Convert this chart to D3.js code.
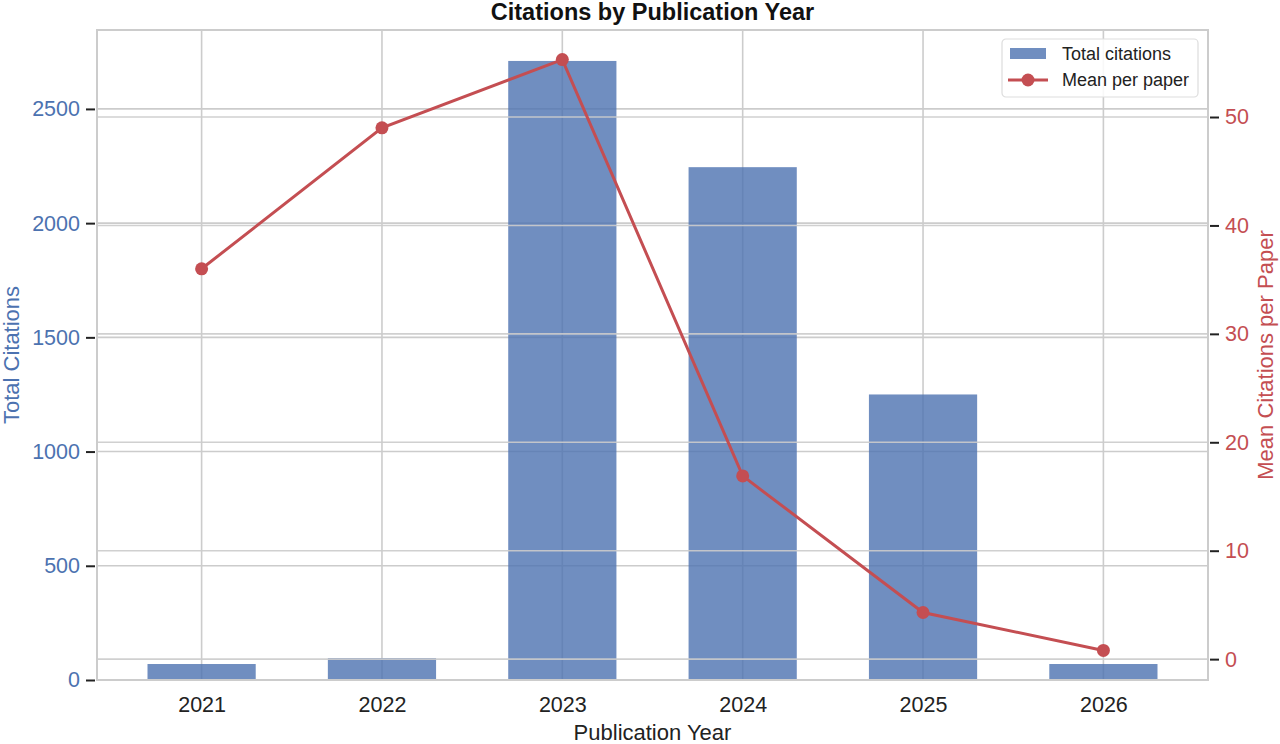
<!DOCTYPE html>
<html>
<head>
<meta charset="utf-8">
<script src="https://cdn.jsdelivr.net/npm/d3@7"></script>
<style>
  body { margin: 0; background: #fff; }
  text { font-family: "Liberation Sans", Arial, sans-serif; }
</style>
</head>
<body>
<div id="container"></div>
<script>
// Data
const years = [2021, 2022, 2023, 2024, 2025, 2026];
const totalCitations = [70, 96, 2710, 2245, 1250, 70];
const meanPerPaper = [36.0, 49.0, 55.3, 16.9, 4.3, 0.8];
const leftTicks = [0, 500, 1000, 1500, 2000, 2500];
const rightTicks = [0, 10, 20, 30, 40, 50];

const width = 1280,
  height = 744;
const m = { left: 97, right: 72, top: 30, bottom: 64 };
const blue = "#4C72B0",
  red = "#C44E52",
  gridColor = "#cccccc";

const svg = d3
  .select("div#container")
  .append("svg")
  .attr("width", width)
  .attr("height", height);

// Scales (matplotlib-like 5% margins)
const barW = 0.6;
const xlo = d3.min(years) - barW / 2,
  xhi = d3.max(years) + barW / 2;
const xpad = (xhi - xlo) * 0.05;
const x = d3.scaleLinear()
  .domain([xlo - xpad, xhi + xpad])
  .range([m.left, width - m.right]);

const yL = d3.scaleLinear()
  .domain([0, d3.max(totalCitations) * 1.05])
  .range([height - m.bottom, m.top]);

const rmin = d3.min(meanPerPaper),
  rmax = d3.max(meanPerPaper);
const rpad = (rmax - rmin) * 0.05;
const yR = d3.scaleLinear()
  .domain([rmin - rpad, rmax + rpad])
  .range([height - m.bottom, m.top]);

const x0 = m.left,
  x1 = width - m.right,
  y0 = height - m.bottom,
  y1 = m.top;

// Left axis grid
svg.append("g")
  .selectAll("line")
  .data(leftTicks)
  .enter()
  .append("line")
  .attr("x1", x0).attr("x2", x1)
  .attr("y1", (d) => yL(d)).attr("y2", (d) => yL(d))
  .attr("stroke", gridColor).attr("stroke-width", 1.6);

svg.append("g")
  .selectAll("line")
  .data(years)
  .enter()
  .append("line")
  .attr("x1", (d) => x(d)).attr("x2", (d) => x(d))
  .attr("y1", y0).attr("y2", y1)
  .attr("stroke", gridColor).attr("stroke-width", 1.6);

// Bars
svg.append("g")
  .selectAll("rect")
  .data(years)
  .enter()
  .append("rect")
  .attr("x", (d) => x(d - barW / 2))
  .attr("width", (d) => x(d + barW / 2) - x(d - barW / 2))
  .attr("y", (d, i) => yL(totalCitations[i]))
  .attr("height", (d, i) => y0 - yL(totalCitations[i]))
  .attr("fill", blue)
  .attr("opacity", 0.8);

// Right axis grid (drawn above bars, like the twin axis)
svg.append("g")
  .selectAll("line")
  .data(rightTicks)
  .enter()
  .append("line")
  .attr("x1", x0).attr("x2", x1)
  .attr("y1", (d) => yR(d)).attr("y2", (d) => yR(d))
  .attr("stroke", gridColor).attr("stroke-width", 1.6)
  .attr("opacity", 0.9);

// Line + markers
const line = d3.line()
  .x((d) => x(d[0]))
  .y((d) => yR(d[1]));
const pts = years.map((yr, i) => [yr, meanPerPaper[i]]);

svg.append("path")
  .datum(pts)
  .attr("d", line)
  .attr("fill", "none")
  .attr("stroke", red)
  .attr("stroke-width", 3);

svg.append("g")
  .selectAll("circle")
  .data(pts)
  .enter()
  .append("circle")
  .attr("cx", (d) => x(d[0]))
  .attr("cy", (d) => yR(d[1]))
  .attr("r", 6.5)
  .attr("fill", red);

// Spines
svg.append("rect")
  .attr("x", x0).attr("y", y1)
  .attr("width", x1 - x0).attr("height", y0 - y1)
  .attr("fill", "none")
  .attr("stroke", gridColor)
  .attr("stroke-width", 2);

// Axes
const axL = svg.append("g")
  .attr("transform", `translate(${x0 - 2},0)`)
  .call(d3.axisLeft(yL).tickValues(leftTicks).tickFormat(d3.format("d")).tickSize(9).tickPadding(6));
axL.select(".domain").remove();
axL.selectAll("line").attr("stroke", "#222").attr("stroke-width", 2);
axL.selectAll("text").attr("fill", blue).style("font-size", "21.5px");

const axR = svg.append("g")
  .attr("transform", `translate(${x1 + 2},0)`)
  .call(d3.axisRight(yR).tickValues(rightTicks).tickSize(9).tickPadding(6));
axR.select(".domain").remove();
axR.selectAll("line").attr("stroke", "#222").attr("stroke-width", 2);
axR.selectAll("text").attr("fill", red).style("font-size", "21.5px");

const axB = svg.append("g")
  .attr("transform", `translate(0,${y0})`)
  .call(d3.axisBottom(x).tickValues(years).tickFormat(d3.format("d")).tickSize(0).tickPadding(17));
axB.select(".domain").remove();
axB.selectAll("text").attr("fill", "#222").style("font-size", "21.5px");

// Titles
const cx = (x0 + x1) / 2,
  cy = (y0 + y1) / 2;
svg.append("text")
  .attr("x", cx).attr("y", 20)
  .attr("text-anchor", "middle")
  .style("font-size", "23.5px").style("font-weight", "bold")
  .attr("fill", "#111")
  .text("Citations by Publication Year");

svg.append("text")
  .attr("x", cx).attr("y", 740)
  .attr("text-anchor", "middle")
  .style("font-size", "22px")
  .attr("fill", "#222")
  .text("Publication Year");

svg.append("text")
  .attr("transform", `translate(19,${cy}) rotate(-90)`)
  .attr("text-anchor", "middle")
  .style("font-size", "22px")
  .attr("fill", blue)
  .text("Total Citations");

svg.append("text")
  .attr("transform", `translate(1273,${cy}) rotate(-90)`)
  .attr("text-anchor", "middle")
  .style("font-size", "22px")
  .attr("fill", red)
  .text("Mean Citations per Paper");

// Legend
const lg = svg.append("g").attr("transform", "translate(1002,39)");
lg.append("rect")
  .attr("width", 196).attr("height", 58)
  .attr("rx", 4)
  .attr("fill", "#fff").attr("fill-opacity", 0.85)
  .attr("stroke", "#dddddd").attr("stroke-width", 1.2);
lg.append("rect")
  .attr("x", 8).attr("y", 9).attr("width", 36).attr("height", 11)
  .attr("fill", blue).attr("opacity", 0.8);
lg.append("text")
  .attr("x", 60).attr("y", 21)
  .style("font-size", "18px").attr("fill", "#222")
  .text("Total citations");
lg.append("line")
  .attr("x1", 6).attr("x2", 46).attr("y1", 41).attr("y2", 41)
  .attr("stroke", red).attr("stroke-width", 3);
lg.append("circle")
  .attr("cx", 26).attr("cy", 41).attr("r", 6.5)
  .attr("fill", red);
lg.append("text")
  .attr("x", 60).attr("y", 47)
  .style("font-size", "18px").attr("fill", "#222")
  .text("Mean per paper");
</script>
</body>
</html>
